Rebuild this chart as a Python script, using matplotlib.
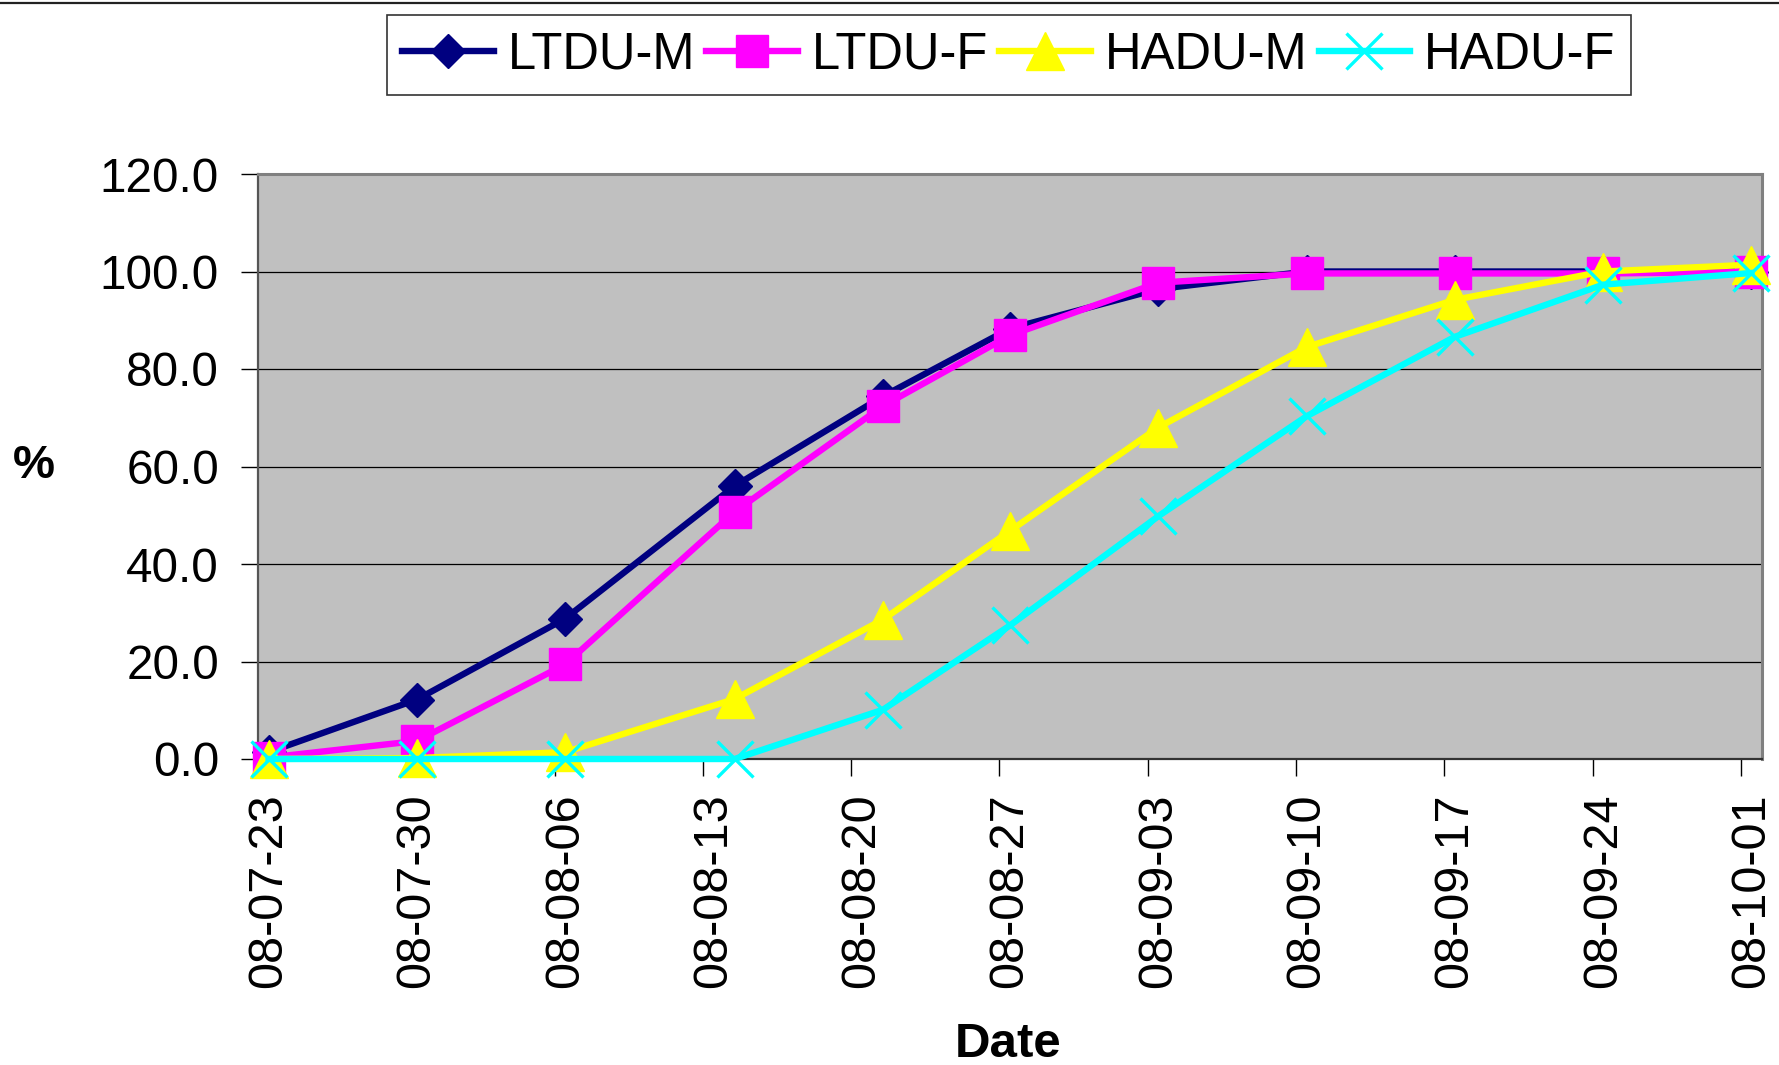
import matplotlib
matplotlib.use("Agg")
import matplotlib.pyplot as plt
import matplotlib.dates as mdates
from matplotlib.lines import Line2D
from datetime import datetime, timedelta

plt.rcParams['font.family'] = ['Liberation Sans', 'DejaVu Sans']

# sampling dates and cumulative percentages
obs_dates = ["2008-07-23", "2008-07-30", "2008-08-06", "2008-08-14", "2008-08-21", "2008-08-27",
             "2008-09-03", "2008-09-10", "2008-09-17", "2008-09-24", "2008-10-01"]
ltdu_m = [1.4, 12.2, 28.8, 56.0, 74.4, 88.3, 96.4, 100.0, 100.0, 100.0, 100.0]
ltdu_f = [0.3, 3.7, 19.4, 50.7, 72.4, 86.9, 97.7, 99.6, 99.6, 99.6, 99.9]
hadu_m = [0.0, 0.2, 1.4, 12.3, 28.6, 46.8, 68.0, 84.5, 94.2, 100.0, 101.4]
hadu_f = [0.0, 0.0, 0.0, 0.0, 10.1, 27.4, 49.8, 70.3, 86.6, 97.3, 99.7]

tick_start = "2008-07-23"
tick_end = "2008-10-01"
y_ticks = [0, 20, 40, 60, 80, 100, 120]

series = [
    ("LTDU-M", ltdu_m, "#000080", "D", 17, 1.0),
    ("LTDU-F", ltdu_f, "#FF00FF", "s", 23.5, 1.0),
    ("HADU-M", hadu_m, "#FFFF00", "^", 27, 1.0),
    ("HADU-F", hadu_f, "#00FFFF", "x", 26, 2.4),
]

# excel date axis: each day is a slot, points sit in the middle of it
x = [mdates.date2num(datetime.strptime(d, "%Y-%m-%d")) + 0.5 for d in obs_dates]
t0 = datetime.strptime(tick_start, "%Y-%m-%d")
t1 = datetime.strptime(tick_end, "%Y-%m-%d")
ticks = []
t = t0
while t <= t1:
    ticks.append(t)
    t += timedelta(days=7)
tick_nums = [mdates.date2num(t) for t in ticks]

fig = plt.figure(figsize=(17.79, 10.65), dpi=100)
ax = fig.add_axes([258 / 1779, 1 - 759 / 1065, (1762 - 258) / 1779, (759 - 174) / 1065])
ax.set_facecolor("#C0C0C0")

handles = []
for name, vals, col, mk, ms, mew in series:
    ln, = ax.plot(x, vals, color=col, lw=4.6, marker=mk, ms=ms, mfc=col, mec=col,
                  mew=mew, clip_on=False, zorder=3, label=name)
    handles.append(ln)

ax.set_xlim(tick_nums[0], tick_nums[-1] + 1)
ax.set_ylim(0, 120)
ax.set_yticks(y_ticks)
ax.set_yticklabels(["%.1f" % v for v in y_ticks])
ax.grid(axis="y", color="black", lw=0.9, zorder=1)
ax.set_axisbelow(True)

ax.set_xticks(tick_nums)
ax.set_xticklabels([])
ax.set_xticks([v + 0.5 for v in tick_nums], minor=True)
ax.set_xticklabels([t.strftime("%y-%m-%d") for t in ticks], minor=True, rotation=90)
ax.tick_params(axis="x", which="major", length=12, width=1, color="black", direction="out")
ax.tick_params(axis="x", which="minor", length=0, pad=25, labelsize=35)
ax.tick_params(axis="y", length=12, width=1, color="black", direction="out", pad=16, labelsize=34.3)

for side in ["top", "right"]:
    ax.spines[side].set_color("#808080")
    ax.spines[side].set_linewidth(2.2)
ax.spines["left"].set_color("#555555")
ax.spines["left"].set_linewidth(1.6)
ax.spines["bottom"].set_color("#333333")
ax.spines["bottom"].set_linewidth(1.6)

fig.text(34 / 1779, 1 - 466 / 1065, "%", fontsize=34, fontweight="bold", ha="center", va="center")
fig.text(1008 / 1779, 1 - 1057 / 1065, "Date", fontsize=35.5, fontweight="bold", ha="center", va="baseline")

leg = fig.legend(handles=handles, loc="center", bbox_to_anchor=(1009 / 1779, 1 - 55 / 1065),
                 ncol=4, fontsize=36.5, frameon=True, fancybox=False, numpoints=1,
                 handlelength=1.8, handletextpad=0.28, columnspacing=0.22,
                 borderpad=0.3, borderaxespad=0)
leg.get_frame().set_edgecolor("black")
leg.get_frame().set_linewidth(1.2)

fig.add_artist(Line2D([0, 1], [1 - 3 / 1065, 1 - 3 / 1065], color="#222222", lw=1.6,
                      transform=fig.transFigure))

fig.savefig("out.png", dpi=100)
